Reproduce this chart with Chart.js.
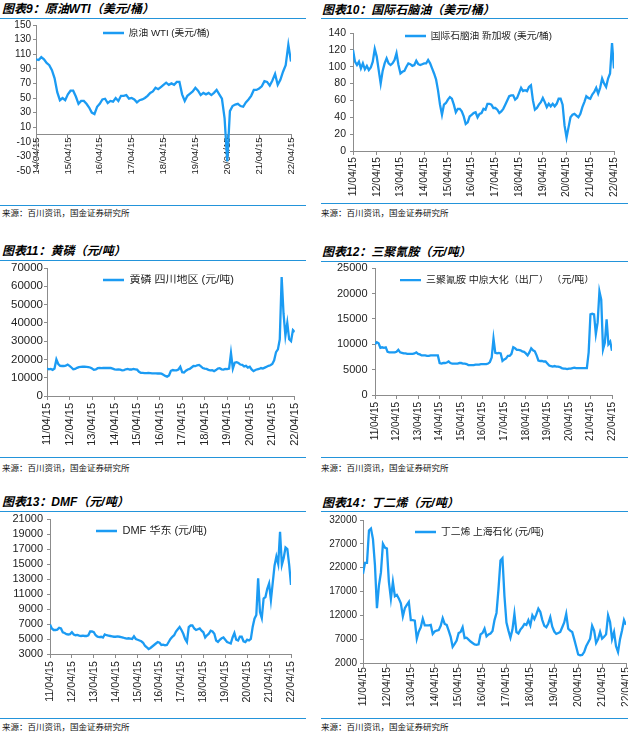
<!DOCTYPE html>
<html>
<head>
<meta charset="utf-8">
<script src="https://cdn.jsdelivr.net/npm/chart.js@4.4.1/dist/chart.umd.min.js"></script>
<style>
  body { margin: 0; width: 628px; height: 733px; overflow: hidden; background: #fff; position: relative; }
  .title { position: absolute; font: italic bold 12px/12px "Liberation Sans", "Noto Sans CJK SC", sans-serif; color: #000; white-space: nowrap; }
  .rule { position: absolute; height: 1.4px; background: #2394DA; }
  .src { position: absolute; font: 8.5px/9px "Noto Sans CJK SC", sans-serif; color: #111; white-space: nowrap; }
  canvas { position: absolute; }
</style>
</head>
<body>
<div class="title" style="left:2px;top:3px">图表9：原油WTI（美元/桶）</div>
<div class="rule" style="left:0;top:18px;width:306px"></div>
<canvas id="c1" width="312" height="189" style="left:0;top:15px"></canvas>
<div class="rule" style="left:0;top:205px;width:306px"></div>
<div class="src" style="left:2px;top:208px">来源：百川资讯，国金证券研究所</div>

<div class="title" style="left:322px;top:4px">图表10：国际石脑油（美元/桶）</div>
<div class="rule" style="left:321px;top:18px;width:307px"></div>
<canvas id="c2" width="319" height="188" style="left:321px;top:15px"></canvas>
<div class="rule" style="left:321px;top:203px;width:307px"></div>
<div class="src" style="left:321px;top:208px">来源：百川资讯，国金证券研究所</div>

<div class="title" style="left:2px;top:245px">图表11：黄磷（元/吨）</div>
<div class="rule" style="left:0;top:260px;width:306px"></div>
<canvas id="c3" width="312" height="200" style="left:0;top:257px"></canvas>
<div class="rule" style="left:0;top:457px;width:306px"></div>
<div class="src" style="left:2px;top:463px">来源：百川资讯，国金证券研究所</div>

<div class="title" style="left:322px;top:246px">图表12：三聚氰胺（元/吨）</div>
<div class="rule" style="left:321px;top:261px;width:307px"></div>
<canvas id="c4" width="319" height="200" style="left:321px;top:257px"></canvas>
<div class="rule" style="left:321px;top:457px;width:307px"></div>
<div class="src" style="left:321px;top:463px">来源：百川资讯，国金证券研究所</div>

<div class="title" style="left:2px;top:496px">图表13：DMF（元/吨）</div>
<div class="rule" style="left:0;top:511px;width:306px"></div>
<canvas id="c5" width="312" height="210" style="left:0;top:508px"></canvas>
<div class="rule" style="left:0;top:718px;width:306px"></div>
<div class="src" style="left:2px;top:722px">来源：百川资讯，国金证券研究所</div>

<div class="title" style="left:322px;top:497px">图表14：丁二烯（元/吨）</div>
<div class="rule" style="left:321px;top:511px;width:307px"></div>
<canvas id="c6" width="319" height="210" style="left:321px;top:508px"></canvas>
<div class="rule" style="left:321px;top:718px;width:307px"></div>
<div class="src" style="left:321px;top:722px">来源：百川资讯，国金证券研究所</div>

<script>
// x axis: one tick per year, value = years after 2011-04-15
const yearLabels = ['11/04/15', '12/04/15', '13/04/15', '14/04/15', '15/04/15', '16/04/15',
    '17/04/15', '18/04/15', '19/04/15', '20/04/15', '21/04/15', '22/04/15'];

// monthly readings, mid-month
const wtiStart = '2014-04';
const wtiValues = [
    103, 102, 106, 103, 98, 95, 88, 77, 58,
    47, 50, 47, 55, 60, 60, 52, 42, 46, 46, 42, 37,
    30, 28, 38, 42, 48, 49, 43, 46, 45, 50, 46, 53,
    53, 54, 49, 50, 48, 44, 47, 48, 50, 53, 57, 59,
    64, 62, 65, 68, 71, 68, 70, 68, 72, 72, 55, 46,
    53, 56, 59, 64, 60, 54, 57, 55, 57, 54, 57, 61,
    55, 49, 22, -37, 32, 39, 41, 42, 39, 38, 44, 48,
    53, 61, 61, 63, 66, 73, 72, 67, 74, 83, 68, 75,
    86, 95, 123, 100
];
const wtiTicks = [-50, -30, -10, 10, 30, 50, 70, 90, 110, 130, 150];

const naphthaStart = '2011-04';
const naphthaValues = [
    120, 106, 102, 106, 98, 104, 97, 101, 96,
    99, 106, 121, 112, 96, 80, 95, 104, 110, 104, 102, 104,
    108, 116, 102, 92, 94, 95, 100, 104, 103, 101, 102, 107,
    103, 102, 103, 104, 104, 108, 104, 98, 92, 85, 72, 55,
    43, 55, 57, 61, 64, 62, 55, 46, 50, 50, 47, 41,
    32, 34, 41, 43, 45, 46, 40, 44, 45, 50, 49, 56,
    56, 55, 51, 51, 49, 45, 47, 50, 55, 60, 65, 66,
    66, 61, 63, 69, 75, 71, 72, 71, 76, 78, 60, 49,
    51, 55, 58, 63, 58, 52, 56, 53, 56, 53, 56, 62,
    62, 55, 30, 16, 28, 40, 43, 44, 42, 40, 44, 52,
    58, 65, 63, 62, 67, 70, 75, 68, 75, 86, 80, 76,
    86, 92, 128, 98
];
const naphthaTicks = [0, 20, 40, 60, 80, 100, 120, 140];

const phosphorusStart = '2011-04';
const phosphorusValues = [
    15000, 14600, 14800, 14300, 15000, 20000, 17500, 16500, 16400,
    16400, 16600, 17200, 16500, 15600, 14600, 14800, 15400, 15800, 15900, 16000, 16000,
    15900, 15800, 15600, 15000, 14300, 14500, 15200, 15300, 15200, 15300, 15300, 15300,
    15300, 15300, 15000, 14600, 14400, 14600, 14400, 14000, 14200, 14600, 14800, 14500,
    14500, 14800, 14600, 14400, 13200, 12700, 12600, 12500, 12500, 12600, 12500, 12400,
    12400, 12400, 12300, 12300, 12200, 11600, 11000, 10600, 11200, 13800, 14200, 14000,
    14000, 14500, 16000, 13000, 12800, 13800, 14500, 14800, 15600, 16400, 16300, 16800,
    17000, 16200, 15300, 15000, 14800, 14300, 14000, 14100, 13600, 14200, 15000, 15200,
    14600, 14400, 14800, 14700, 15000, 23500, 15000, 18200, 18500, 18000, 17200, 17000,
    16200, 16500, 15500, 16000, 14500, 13600, 14200, 14600, 14800, 15300, 15000, 15500,
    16000, 16500, 16800, 17500, 19500, 24000, 25500, 31000, 65000, 45000, 33000, 40000,
    31000, 30000, 36000, 35000
];
const phosphorusTicks = [0, 10000, 20000, 30000, 40000, 50000, 60000, 70000];

const melamineStart = '2011-04';
const melamineValues = [
    10000, 10400, 10200, 9300, 9400, 9300, 9400, 8500, 8400,
    8400, 8400, 8400, 8500, 8900, 8400, 8300, 8200, 8200, 8100, 8100, 8100,
    8100, 8200, 8400, 8100, 8000, 7800, 7800, 7800, 7700, 7700, 7800, 7800,
    7800, 7800, 7800, 6300, 6200, 6300, 6300, 6400, 6600, 6300, 6200, 6200,
    6200, 6200, 6300, 6300, 6200, 6200, 6100, 5900, 5900, 5900, 5900, 6000,
    6000, 6000, 6100, 6100, 6100, 6100, 6200, 6500, 7400, 11100, 8300, 8200,
    8300, 8200, 6700, 7000, 7200, 7700, 7700, 8100, 9400, 9200, 8900, 8900,
    8800, 8600, 8500, 8200, 7800, 8400, 9200, 8800, 8600, 7800, 6800, 6700,
    6700, 6600, 6600, 6200, 5800, 5700, 5600, 5700, 5600, 5600, 5500, 5300,
    5200, 5200, 5100, 5200, 5200, 5300, 5400, 5300, 5300, 5300, 5300, 5300,
    5300, 5300, 8400, 15900, 16000, 15900, 12000, 14300, 20400, 18800, 9000, 10300,
    14900, 10000, 10500, 8700
];
const melamineTicks = [0, 5000, 10000, 15000, 20000, 25000];

const dmfStart = '2011-04';
const dmfValues = [
    6950, 6400, 6200, 6200, 6250, 6500, 6400, 5900, 5800,
    5650, 5600, 5650, 5900, 5600, 5500, 5550, 5450, 5400, 5450, 5400, 5400,
    5500, 6000, 6000, 5900, 5500, 5300, 5250, 5300, 5200, 5600, 5500, 5450,
    5400, 5350, 5300, 5300, 5350, 5300, 5250, 5200, 5100, 5050, 5100, 5050,
    5000, 5350, 5000, 4900, 4800, 4700, 4500, 4100, 3900, 3650, 3800, 4000,
    4200, 4400, 4600, 4500, 4200, 4250, 4150, 4200, 4600, 5000, 5300, 5500,
    6000, 6300, 6600, 6200, 5700, 5000, 4600, 6600, 6800, 6800, 6400, 6200,
    6300, 6400, 6100, 5900, 5200, 5500, 5700, 6100, 6000, 5700, 4800, 4600,
    4900, 5100, 5200, 4900, 4600, 4500, 4400, 5200, 5800, 4900, 4800, 5300,
    5300, 4700, 4600, 4900, 4800, 5000, 6600, 7700, 8200, 13100, 8600, 7800,
    10400, 10600, 11700, 12400, 10200, 12500, 14800, 16000, 15000, 19300, 14900, 15800,
    17200, 17000, 14900, 12200
];
const dmfTicks = [3000, 5000, 7000, 9000, 11000, 13000, 15000, 17000, 19000, 21000];

const butadieneStart = '2011-04';
const butadieneValues = [
    20700, 23000, 23000, 29800, 30200, 28000, 22500, 13500, 18300,
    21000, 27000, 26200, 26000, 19000, 15500, 19000, 16000, 16300, 15500, 14500, 11800,
    13500, 14200, 14800, 11000, 11000, 10900, 7100, 8600, 9500, 11300, 9900, 9900,
    9900, 10000, 8100, 8600, 8800, 8900, 9800, 11400, 10200, 10000, 8800, 7500,
    5400, 6000, 6700, 8300, 8500, 9500, 7200, 7300, 6900, 6500, 6200, 5900,
    5800, 5900, 8000, 8300, 9200, 7600, 8000, 8200, 8700, 11000, 12500, 17500,
    23500, 24000, 16000, 10500, 8800, 7300, 9000, 12300, 8500, 8200, 9000, 9500,
    10200, 10000, 11000, 9900, 12000, 11200, 12200, 13400, 12700, 11000, 9800, 9500,
    10300, 11600, 9600, 8600, 8100, 8300, 8500, 9500, 10500, 12300, 9200, 8800,
    8500, 7000, 5400, 3800, 3600, 3700, 4300, 5500, 6300, 7100, 9800, 8800,
    6200, 7000, 8500, 7100, 7500, 8000, 12000, 10600, 7000, 8500, 5500, 4300,
    7000, 8800, 11000, 10000
];
const butadieneTicks = [2000, 7000, 12000, 17000, 22000, 27000, 32000];

const LINE = '#1B9BF3';
const AXIS = '#8c8c8c';
const TEXT = '#222';
const FONT = '"Liberation Sans", "Noto Sans CJK SC", sans-serif';

function xOf(start, i) {
    const [y, m] = start.split('-').map(Number);
    return (y - 2011) + (m - 4 + i) / 12;
}

function toPoints(start, values) {
    return values.map((v, i) => ({ x: xOf(start, i), y: v }));
}

// put the in-plot legend where the original has it
const legendSpot = {
    id: 'legendSpot',
    afterLayout(chart, args, opts) {
        const lg = chart.legend;
        if (!lg) return;
        const w = lg.width, h = lg.height;
        lg.left = chart.chartArea.left + opts.dx;
        lg.top = chart.chartArea.top + opts.cy - opts.size / 2;
        lg.right = lg.left + w;
        lg.bottom = lg.top + h;
    }
};

function drawPanel(p) {
    const xTicks = [];
    for (let v = p.firstYear; v < yearLabels.length; v++) xTicks.push(v);

    new Chart(document.getElementById(p.id), {
        type: 'line',
        data: {
            datasets: [{
                label: p.label,
                data: toPoints(p.start, p.values),
                borderColor: LINE,
                backgroundColor: LINE,
                borderWidth: 2.3,
                pointRadius: 0,
                tension: 0
            }]
        },
        options: {
            responsive: false,
            animation: false,
            events: [],
            layout: { padding: p.pad },
            scales: {
                x: {
                    type: 'linear',
                    min: xTicks[0],
                    max: xTicks[xTicks.length - 1],
                    position: { y: p.xAt },
                    afterBuildTicks: (s) => { s.ticks = xTicks.map(v => ({ value: v })); },
                    grid: { drawOnChartArea: false, drawTicks: true, tickLength: 3, color: AXIS },
                    border: { display: true, color: AXIS },
                    ticks: {
                        autoSkip: false,
                        minRotation: 90,
                        maxRotation: 90,
                        padding: p.xPad,
                        color: TEXT,
                        font: { family: FONT, size: p.xFont },
                        callback: (v) => yearLabels[Math.round(v)]
                    }
                },
                y: {
                    position: 'left',
                    min: p.yTicks[0],
                    max: p.yTicks[p.yTicks.length - 1],
                    afterBuildTicks: (s) => { s.ticks = p.yTicks.map(v => ({ value: v })); },
                    afterFit: (s) => { s.width = p.axisW; },
                    grid: { drawOnChartArea: false, drawTicks: true, tickLength: 3, color: AXIS },
                    border: { display: true, color: AXIS },
                    ticks: {
                        autoSkip: false,
                        padding: p.yPad,
                        color: TEXT,
                        font: { family: FONT, size: p.yFont },
                        callback: (v) => String(v)
                    }
                }
            },
            plugins: {
                legend: {
                    position: 'chartArea',
                    align: 'start',
                    labels: {
                        usePointStyle: true,
                        pointStyle: 'line',
                        pointStyleWidth: 21,
                        padding: 0,
                        color: TEXT,
                        font: { family: FONT, size: p.legend.size }
                    }
                },
                tooltip: { enabled: false },
                legendSpot: p.legend
            }
        },
        plugins: [legendSpot]
    });
}

drawPanel({
    id: 'c1', label: '原油 WTI (美元/桶)', start: wtiStart, values: wtiValues, yTicks: wtiTicks,
    firstYear: 3, xAt: 0, axisW: 36, pad: { left: 0, top: 10, right: 21, bottom: 33 },
    xFont: 9.5, yFont: 10, xPad: 0, yPad: 2, legend: { dx: 67, cy: 8, size: 9.7 }
});
drawPanel({
    id: 'c2', label: '国际石脑油 新加坡 (美元/桶)', start: naphthaStart, values: naphthaValues, yTicks: naphthaTicks,
    firstYear: 0, xAt: 0, axisW: 32, pad: { left: 0, top: 18, right: 26, bottom: 52 },
    xFont: 10.3, yFont: 10.5, xPad: 3, yPad: 4, legend: { dx: 52, cy: 3, size: 9.7 }
});
drawPanel({
    id: 'c3', label: '黄磷 四川地区 (元/吨)', start: phosphorusStart, values: phosphorusValues, yTicks: phosphorusTicks,
    firstYear: 0, xAt: 0, axisW: 47, pad: { left: 0, top: 11, right: 17, bottom: 61 },
    xFont: 11, yFont: 11.5, xPad: 4, yPad: 1, legend: { dx: 56, cy: 12, size: 11 }
});
drawPanel({
    id: 'c4', label: '三聚氰胺 中原大化（出厂） （元/吨）', start: melamineStart, values: melamineValues, yTicks: melamineTicks,
    firstYear: 0, xAt: 0, axisW: 54, pad: { left: 0, top: 10, right: 28, bottom: 62 },
    xFont: 10, yFont: 11, xPad: 4, yPad: 4.5, legend: { dx: 25, cy: 12, size: 10 }
});
drawPanel({
    id: 'c5', label: 'DMF 华东 (元/吨)', start: dmfStart, values: dmfValues, yTicks: dmfTicks,
    firstYear: 0, xAt: 3000, axisW: 50, pad: { left: 0, top: 11, right: 21, bottom: 64 },
    xFont: 10.7, yFont: 11, xPad: 4, yPad: 4, legend: { dx: 46, cy: 12, size: 11 }
});
drawPanel({
    id: 'c6', label: '丁二烯 上海石化 (元/吨)', start: butadieneStart, values: butadieneValues, yTicks: butadieneTicks,
    firstYear: 0, xAt: 2000, axisW: 42, pad: { left: 0, top: 12, right: 14, bottom: 55 },
    xFont: 10.3, yFont: 10, xPad: 1, yPad: 3, legend: { dx: 52, cy: 12, size: 9.8 }
});
</script>
</body>
</html>
